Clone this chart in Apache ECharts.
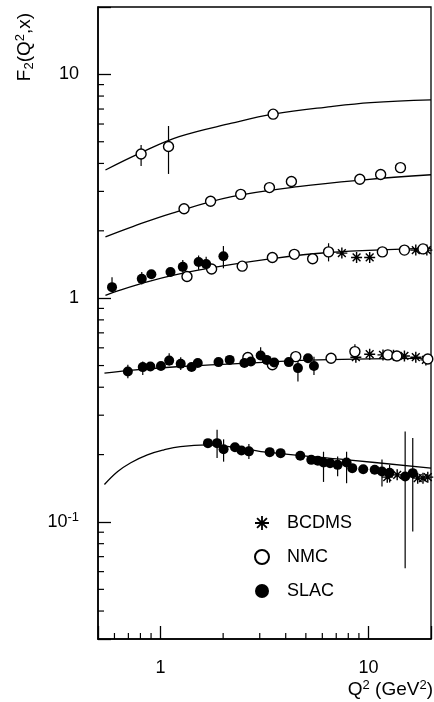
<!DOCTYPE html>
<html>
<head>
<meta charset="utf-8">
<script src="https://cdn.jsdelivr.net/npm/echarts@6/dist/echarts.min.js"></script>
<style>
  html, body { margin: 0; padding: 0; background: #fff; }
  #chart { width: 434px; height: 702px; }
</style>
</head>
<body>
<div id="chart"></div>
<script>
// Fitted F2 curves, one per x bin: [Q2, F2]
const fit1 = [[0.543,3.74],[0.806,4.47],[1.228,5.27],[2.20,6.05],[3.48,6.64],[6.61,7.18],[10.26,7.48],[20,7.70]];
const fit2 = [[0.543,1.88],[0.735,2.09],[1.14,2.40],[2.20,2.84],[4.58,3.15],[9.54,3.38],[20,3.56]];
const fit3 = [[0.543,1.03],[0.588,1.06],[0.881,1.19],[1.496,1.33],[3.23,1.49],[6.43,1.60],[20,1.67]];
const fit4 = [[0.537,0.462],[0.709,0.476],[1.245,0.495],[3.23,0.518],[5.76,0.530],[20,0.540]];
const fit5 = [[0.537,0.147],[0.622,0.168],[0.719,0.184],[0.864,0.1995],[1.038,0.210],[1.245,0.2173],[1.67,0.221],[2.5,0.213],[3.23,0.205],[7.94,0.1895],[20,0.174]];

// NMC measurements
const nmc1 = [[0.806,4.41],[1.092,4.76],[3.48,6.64]];
const nmc2 = [[1.297,2.51],[1.74,2.71],[2.43,2.91],[3.34,3.12],[4.26,3.32],[9.09,3.40],[11.45,3.57],[14.26,3.83]];
const nmc3 = [[1.34,1.25],[1.76,1.35],[2.47,1.39],[3.45,1.52],[4.40,1.57],[5.39,1.50],[6.43,1.61],[11.67,1.61],[14.9,1.64],[18.3,1.66]];
const nmc4 = [[2.63,0.543],[3.45,0.504],[4.47,0.548],[6.61,0.539],[8.61,0.577],[12.4,0.558],[13.7,0.552],[19.3,0.535]];

// SLAC measurements
const slac3 = [[0.584,1.12],[0.812,1.22],[0.903,1.28],[1.116,1.31],[1.279,1.38],[1.524,1.45],[1.657,1.42],[2.006,1.54]];
const slac4 = [[0.696,0.470],[0.821,0.492],[0.893,0.495],[1.004,0.498],[1.10,0.526],[1.25,0.509],[1.41,0.493],[1.51,0.513],[1.90,0.518],[2.15,0.530],[2.53,0.513],[2.72,0.521],[3.03,0.554],[3.24,0.530],[3.52,0.516],[4.14,0.518],[4.58,0.487],[5.12,0.539],[5.47,0.498]];
const slac5 = [[1.69,0.225],[1.87,0.225],[2.01,0.2115],[2.28,0.2156],[2.45,0.2086],[2.66,0.2068],[3.35,0.2051],[3.78,0.2030],[4.70,0.1975],[5.31,0.1895],[5.71,0.1876],[6.08,0.1843],[6.54,0.1832],[7.11,0.180],[7.85,0.1843],[8.36,0.174],[9.44,0.172],[10.72,0.171],[11.62,0.168],[12.64,0.166],[15.02,0.1596],[16.34,0.1653]];

// BCDMS measurements
const bcdms3 = [[7.45,1.59],[8.77,1.52],[10.14,1.52],[16.9,1.64],[19.1,1.64]];
const bcdms4 = [[8.70,0.545],[10.14,0.562],[11.75,0.558],[13.2,0.556],[14.9,0.552],[16.9,0.545],[18.9,0.530]];
const bcdms5 = [[12.32,0.1586],[13.75,0.1624],[17.26,0.157],[18.3,0.157],[19.3,0.1586]];

// Error bars: [Q2, low, high]
const nmcErr = [[0.806,3.90,4.84],[1.092,3.59,5.88],[4.26,3.16,3.49],[6.43,1.46,1.76],[8.61,0.54,0.623]];
const slacErr = [[0.584,1.07,1.24],[0.812,1.15,1.31],[1.279,1.30,1.48],[1.524,1.34,1.55],[1.657,1.35,1.53],[2.006,1.36,1.71],
  [0.696,0.439,0.504],[0.821,0.454,0.521],[1.10,0.50,0.568],[1.25,0.478,0.545],[3.03,0.53,0.604],[4.58,0.424,0.558],[5.47,0.454,0.547],
  [1.87,0.193,0.258],[2.01,0.186,0.234],[2.66,0.191,0.223],[3.78,0.195,0.212],[6.08,0.151,0.206],[7.11,0.160,0.196],[7.85,0.149,0.206],
  [11.62,0.144,0.190],[12.64,0.150,0.180],[15.02,0.0622,0.2535],[16.34,0.0907,0.237]];

// Axis tick values
const xMajorLabels = [1, 10];
const yMajorLabels = [0.1, 1, 10];
const xMinorTicks = [0.6,0.7,0.8,0.9,2,3,4,5,6,7,8,9];
const yMinorTicks = [0.04,0.05,0.06,0.07,0.08,0.09,0.2,0.3,0.4,0.5,0.6,0.7,0.8,0.9,2,3,4,5,6,7,8,9];

const FONT = '"Liberation Sans", Arial, Helvetica, sans-serif';
// Bold eight-armed asterisk marker
const STAR = 'path://M8.7,0L11.3,0L11.3,20L8.7,20ZM0,8.7L20,8.7L20,11.3L0,11.3ZM3.85,2.01L17.99,16.15L16.15,17.99L2.01,3.85ZM16.15,2.01L17.99,3.85L3.85,17.99L2.01,16.15Z';

const isNear = (a, b) => Math.abs(a - b) < 1e-6 * b;

function fitSeries(data) {
  return {
    type: 'line', data: data, smooth: 0.4, showSymbol: false, symbol: 'none',
    lineStyle: { color: '#000', width: 1.3 }, silent: true, z: 2
  };
}

function errSeries(data) {
  return {
    type: 'custom', data: data, z: 3, silent: true,
    encode: { x: 0, y: [1, 2] },
    renderItem: function (params, api) {
      const a = api.coord([api.value(0), api.value(1)]);
      const b = api.coord([api.value(0), api.value(2)]);
      return { type: 'line', shape: { x1: a[0], y1: a[1], x2: b[0], y2: b[1] },
        style: { stroke: '#000', lineWidth: 1.2 } };
    }
  };
}

function minorTickSeries(values, dir) {
  return {
    type: 'custom', data: values.map(v => [v]), z: 5, silent: true,
    encode: dir === 'x' ? { x: 0 } : { y: 0 },
    renderItem: function (params, api) {
      const cs = params.coordSys;
      const v = api.value(0);
      if (dir === 'x') {
        const px = api.coord([v, 1])[0];
        const y0 = cs.y + cs.height;
        return { type: 'line', shape: { x1: px, y1: y0, x2: px, y2: y0 - 6 }, style: { stroke: '#000', lineWidth: 1.2 } };
      }
      const py = api.coord([1, v])[1];
      return { type: 'line', shape: { x1: cs.x, y1: py, x2: cs.x + 6, y2: py }, style: { stroke: '#000', lineWidth: 1.2 } };
    }
  };
}

const chart = echarts.init(document.getElementById('chart'), null, { renderer: 'canvas' });

chart.setOption({
  animation: false,
  backgroundColor: '#fff',
  grid: { left: 98, right: 1, top: 7, bottom: 63, show: true, borderColor: '#000', borderWidth: 1.3, backgroundColor: 'transparent' },
  xAxis: {
    type: 'log', logBase: 10, min: 0.5, max: 20,
    axisLine: { show: true, lineStyle: { color: '#000', width: 1.6 } },
    axisTick: { show: true, inside: true, length: 13, lineStyle: { color: '#000', width: 1.3 } },
    splitLine: { show: false },
    axisLabel: {
      color: '#000', fontFamily: FONT, fontSize: 18, margin: 20,
      formatter: function (v) {
        for (const m of xMajorLabels) if (isNear(v, m)) return String(m);
        return '';
      }
    }
  },
  yAxis: {
    type: 'log', logBase: 10, min: 0.03, max: 20,
    axisLine: { show: true, lineStyle: { color: '#000', width: 1.6 } },
    axisTick: { show: true, inside: true, length: 13, lineStyle: { color: '#000', width: 1.3 } },
    splitLine: { show: false },
    axisLabel: {
      color: '#000', fontFamily: FONT, fontSize: 18, margin: 19,
      formatter: function (v) {
        if (isNear(v, yMajorLabels[0])) return '10{sup|-1}';
        if (isNear(v, yMajorLabels[1])) return '1';
        if (isNear(v, yMajorLabels[2])) return '10';
        return '';
      },
      rich: { sup: { fontFamily: FONT, fontSize: 13, color: '#000', verticalAlign: 'bottom', padding: [0, 0, 9, 0] } }
    }
  },
  legend: {
    orient: 'vertical', left: 249, top: 509,
    data: ['BCDMS', 'NMC', 'SLAC'],
    itemWidth: 40, itemHeight: 14, itemGap: 16,
    textStyle: { color: '#000', fontFamily: FONT, fontSize: 18, lineHeight: 18 },
    selectedMode: false
  },
  graphic: [
    {
      type: 'text', x: 25, y: 47, rotation: Math.PI / 2,
      style: {
        text: 'F{sub|2}(Q{sup|2},x)', fill: '#000', font: '19px ' + FONT,
        align: 'center', verticalAlign: 'middle',
        rich: {
          sub: { fontSize: 13, fontFamily: FONT, fill: '#000', verticalAlign: 'top', padding: [9, 0, 0, 0] },
          sup: { fontSize: 13, fontFamily: FONT, fill: '#000', verticalAlign: 'bottom', padding: [0, 0, 9, 0] }
        }
      }
    },
    {
      type: 'text', x: 433, y: 690,
      style: {
        text: 'Q{sup|2} (GeV{sup|2})', fill: '#000', font: '19px ' + FONT,
        align: 'right', verticalAlign: 'middle',
        rich: { sup: { fontSize: 13, fontFamily: FONT, fill: '#000', verticalAlign: 'bottom', padding: [0, 0, 9, 0] } }
      }
    }
  ],
  series: [
    fitSeries(fit1), fitSeries(fit2), fitSeries(fit3), fitSeries(fit4), fitSeries(fit5),
    errSeries(nmcErr), errSeries(slacErr),
    minorTickSeries(xMinorTicks, 'x'), minorTickSeries(yMinorTicks, 'y'),
    {
      name: 'BCDMS', type: 'scatter', z: 6, symbol: STAR, symbolSize: 11, symbolKeepAspect: true,
      itemStyle: { color: '#000', opacity: 1 },
      data: [].concat(bcdms3, bcdms4, bcdms5)
    },
    {
      name: 'NMC', type: 'scatter', z: 7, symbol: 'circle', symbolSize: 10,
      itemStyle: { color: '#fff', borderColor: '#000', borderWidth: 1.4, opacity: 1 },
      data: [].concat(nmc1, nmc2, nmc3, nmc4)
    },
    {
      name: 'SLAC', type: 'scatter', z: 8, symbol: 'circle', symbolSize: 10,
      itemStyle: { color: '#000', opacity: 1 },
      data: [].concat(slac3, slac4, slac5)
    }
  ]
});
</script>
</body>
</html>
